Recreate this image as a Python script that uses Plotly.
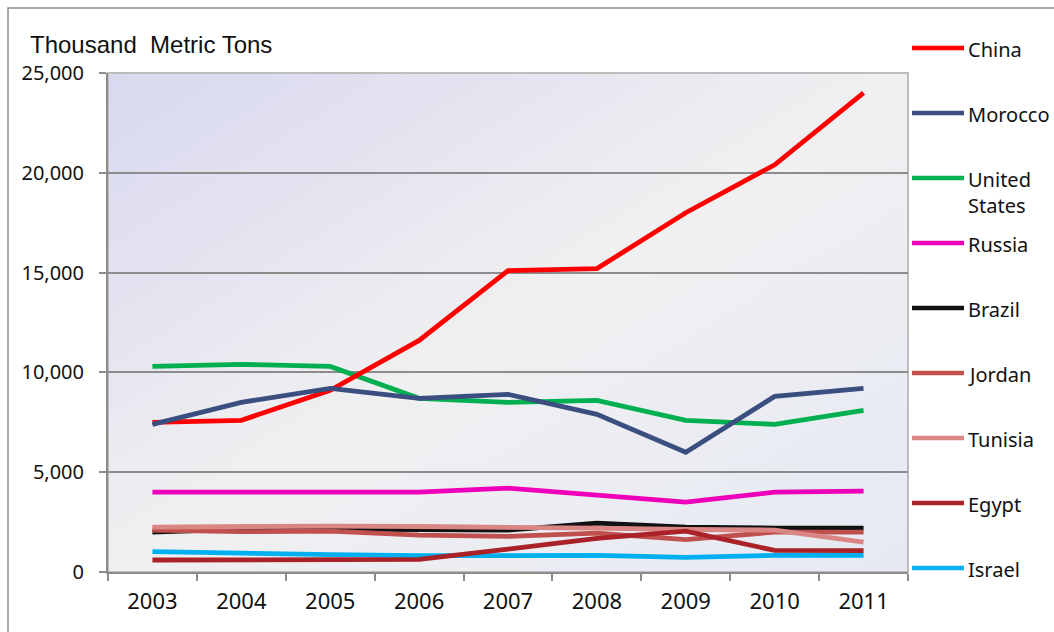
import base64
import plotly.graph_objects as go

# Production, thousand metric tons
years = ["2003", "2004", "2005", "2006", "2007", "2008", "2009", "2010", "2011"]

china = [7500, 7600, 9100, 11600, 15100, 15200, 18000, 20400, 24000]
morocco = [7400, 8500, 9200, 8700, 8900, 7900, 6000, 8800, 9200]
united_states = [10300, 10400, 10300, 8700, 8500, 8600, 7600, 7400, 8100]
russia = [4000, 4000, 4000, 4000, 4200, 3850, 3500, 4000, 4050]
brazil = [2000, 2150, 2150, 2100, 2100, 2450, 2250, 2200, 2200]
jordan = [2100, 2020, 2050, 1850, 1780, 1950, 1620, 2000, 2000]
tunisia = [2250, 2300, 2300, 2280, 2270, 2200, 2130, 2100, 1500]
egypt = [600, 620, 600, 630, 1150, 1680, 2050, 1080, 1070]
israel = [1020, 920, 870, 820, 830, 830, 730, 830, 830]

series = [
    ("China", china, "#ff0000"),
    ("Morocco", morocco, "#3b4e80"),
    ("United<br>States", united_states, "#00b050"),
    ("Russia", russia, "#ee00bb"),
    ("Brazil", brazil, "#111111"),
    ("Jordan", jordan, "#c0504d"),
    ("Tunisia", tunisia, "#d98684"),
    ("Egypt", egypt, "#aa2228"),
    ("Israel", israel, "#00b0f0"),
]
draw_order = [2, 0, 1, 3, 4, 5, 6, 8, 7]

W, H = 1054, 632
L, R, T, B = 108, 908, 73, 572


def px_x(px):
    return (px - L) / (R - L)


def px_y(py):
    return (B - py) / (B - T)


fig = go.Figure()
for i in draw_order:
    name, vals, color = series[i]
    fig.add_trace(go.Scatter(
        x=years, y=vals, mode="lines", name=name.replace("<br>", " "),
        line=dict(color=color, width=4.8), showlegend=False,
    ))

# diagonal gradient for the plot area
svg = (
    "<svg xmlns='http://www.w3.org/2000/svg' width='800' height='500' preserveAspectRatio='none'>"
    "<defs><linearGradient id='g' x1='0' y1='0' x2='1' y2='1'>"
    "<stop offset='0' stop-color='#d8d8f0'/>"
    "<stop offset='0.5' stop-color='#f0f0f1'/>"
    "<stop offset='1' stop-color='#e5e9f4'/>"
    "</linearGradient></defs>"
    "<rect width='800' height='500' fill='url(#g)'/></svg>"
)
bg_src = "data:image/svg+xml;base64," + base64.b64encode(svg.encode()).decode()

shapes = [
    # outer chart frame
    dict(type="rect", xref="paper", yref="paper",
         x0=px_x(8), x1=px_x(1070), y0=px_y(660), y1=px_y(8),
         line=dict(color="#8c8c8c", width=1.5), fillcolor="rgba(0,0,0,0)", layer="below"),
    # plot area border
    dict(type="rect", xref="paper", yref="paper", x0=0, x1=1, y0=0, y1=1,
         line=dict(color="#bdbdbd", width=2), fillcolor="rgba(0,0,0,0)", layer="below"),
]
annotations = [
    dict(text="Thousand\u00a0 Metric Tons", xref="paper", yref="paper",
         x=px_x(28), y=px_y(45), xanchor="left", yanchor="middle", showarrow=False,
         font=dict(family="Liberation Sans, Arial", size=24, color="#111111")),
]

# legend: sample line plus label for each series
for i, (name, vals, color) in enumerate(series):
    ly = 48 + 65 * i
    shapes.append(dict(type="line", xref="paper", yref="paper",
                       x0=px_x(912), x1=px_x(964), y0=px_y(ly), y1=px_y(ly),
                       line=dict(color=color, width=4.5)))
    annotations.append(dict(text=name, xref="paper", yref="paper",
                            x=px_x(966), y=px_y(ly - 14), xanchor="left", yanchor="top",
                            align="left", showarrow=False,
                            font=dict(family="Noto Sans", size=20, color="#111111")))

fig.update_layout(
    width=W, height=H, autosize=False,
    margin=dict(l=L, r=W - R, t=T, b=H - B, pad=0),
    paper_bgcolor="white", plot_bgcolor="rgba(0,0,0,0)",
    images=[dict(source=bg_src, xref="paper", yref="paper", x=0, y=1,
                 sizex=1, sizey=1, sizing="stretch", layer="below")],
    shapes=shapes, annotations=annotations,
    xaxis=dict(type="category", categoryorder="array", categoryarray=years,
               tickson="boundaries", ticks="outside", ticklen=7, tickwidth=1.5,
               tickcolor="#8c8c8c", showline=True, linecolor="#8c8c8c", linewidth=2,
               showgrid=False, zeroline=False, ticklabelstandoff=9,
               tickfont=dict(family="Noto Sans", size=22, color="#111111"),
               range=[-0.5, 8.5]),
    yaxis=dict(range=[0, 25000], tickvals=[0, 5000, 10000, 15000, 20000, 25000],
               tickformat=",d", ticks="outside", ticklen=7, tickwidth=1.5,
               tickcolor="#8c8c8c", showline=True, linecolor="#8c8c8c", linewidth=2,
               showgrid=True, gridcolor="#8c8c8c", gridwidth=1.5, zeroline=False,
               ticklabelstandoff=11,
               tickfont=dict(family="Noto Sans", size=20, color="#111111")),
)

fig.write_html("out.html")
